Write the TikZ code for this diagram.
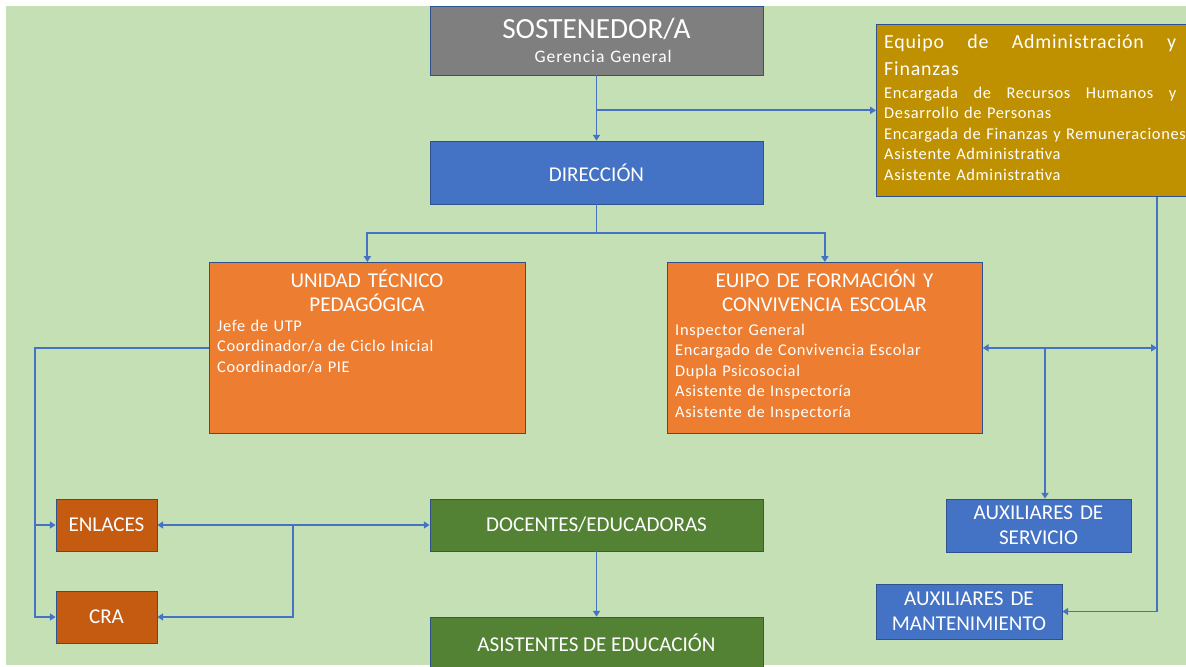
\documentclass[tikz,border=0pt]{standalone}
\usepackage{fontspec}
\setmainfont{Carlito}
\usepackage{xcolor}
\usetikzlibrary{positioning,calc,arrows.meta}

\definecolor{bgGreen}{HTML}{C5E0B4}
\definecolor{sostGray}{HTML}{7F7F7F}
\definecolor{boxBlue}{HTML}{4472C4}
\definecolor{adminGold}{HTML}{BF9000}
\definecolor{boxOrange}{HTML}{ED7D31}
\definecolor{darkOrange}{HTML}{C55A11}
\definecolor{boxGreen}{HTML}{548235}
\definecolor{boxEdge}{HTML}{2F528F}
\definecolor{lineBlue}{HTML}{4472C4}

\newcommand{\bodyfont}{\fontsize{14}{17.5}\selectfont\addfontfeatures{LetterSpace=4}}

\begin{document}
\begin{tikzpicture}[x=0.03cm, y=-0.03cm,
    >={Triangle[length=5pt,width=6pt]},
    orgbox/.style={draw=boxEdge, line width=0.6pt, text=white, align=center,
        inner sep=0pt, font=\fontsize{18}{21}\selectfont},
    titletext/.style={text=white, inner sep=0pt, text width=9cm, align=center,
        anchor=base, font=\fontsize{18}{21}\selectfont},
    bodytext/.style={text=white, inner sep=0pt, text width=9cm, align=left,
        anchor=base west, font=\bodyfont},
    conn/.style={draw=lineBlue, line width=1.6pt}]

    % Page and background
    \useasboundingbox (0,0) rectangle (1186,666);
    \fill[bgGreen] (6,6) rectangle (1186,665);

    % Top level
    \node[orgbox, fill=sostGray, minimum width=9.99cm, minimum height=2.07cm,
        text width=9.5cm, font=\fontsize{15}{21}\selectfont\addfontfeatures{LetterSpace=5}] (sost) at (596.5,40.5)
        {{\fontsize{25}{21}\selectfont\addfontfeatures{LetterSpace=0}SOSTENEDOR/A}\\\hspace*{0.4cm}Gerencia General};
    \node[orgbox, fill=boxBlue, minimum width=9.99cm, minimum height=1.89cm] (dir) at (596.5,172.5) {DIRECCIÓN};

    % Administration team
    \node[orgbox, fill=adminGold, minimum width=9.9cm, minimum height=5.16cm, anchor=north west] (admin) at (876,24) {};
    \node[bodytext, text width=8.76cm] (adminTxt) at (884,48)
        {{\fontsize{17}{23}\selectfont\makebox[8.76cm]{Equipo\hfill de\hfill Administración\hfill y}}\\[6pt]
         {\fontsize{17}{23}\selectfont Finanzas}\\[2pt]
         \makebox[8.76cm]{Encargada\hfill de\hfill Recursos\hfill Humanos\hfill y}\\
         Desarrollo de Personas\\
         \makebox[8.76cm][l]{Encargada de Finanzas y Remuneraciones}\\
         Asistente Administrativa\\
         Asistente Administrativa};

    % UTP
    \node[orgbox, fill=boxOrange, minimum width=9.48cm, minimum height=5.13cm, anchor=north west] (utp) at (209,262) {};
    \node[titletext] (utpTtl) at (367,287) {UNIDAD TÉCNICO\\PEDAGÓGICA};
    \node[bodytext] (utpTxt) at (217,331) {Jefe de UTP\\Coordinador/a de Ciclo Inicial\\Coordinador/a PIE};

    % Formacion y convivencia
    \node[orgbox, fill=boxOrange, minimum width=9.45cm, minimum height=5.13cm, anchor=north west] (efce) at (667,262) {};
    \node[titletext] (efceTtl) at (824.5,287) {EUIPO DE FORMACIÓN Y\\CONVIVENCIA ESCOLAR};
    \node[bodytext] (efceTxt) at (675,335) {Inspector General\\Encargado de Convivencia Escolar\\Dupla Psicosocial\\Asistente de Inspectoría\\Asistente de Inspectoría};

    % Lower level
    \node[orgbox, fill=darkOrange, minimum width=3.03cm, minimum height=1.56cm] (enl) at (106.5,525) {ENLACES};
    \node[orgbox, fill=darkOrange, minimum width=3.03cm, minimum height=1.56cm] (cra) at (106.5,617) {CRA};
    \node[orgbox, fill=boxGreen, minimum width=9.99cm, minimum height=1.56cm] (doc) at (596.5,525) {DOCENTES/EDUCADORAS};
    \node[orgbox, fill=boxGreen, minimum width=9.99cm, minimum height=1.56cm] (asis) at (596.5,643) {ASISTENTES DE EDUCACIÓN};
    \node[orgbox, fill=boxBlue, minimum width=5.55cm, minimum height=1.59cm, text width=5.3cm] (auxs) at (1038.5,525.5) {AUXILIARES DE\\SERVICIO};
    \node[orgbox, fill=boxBlue, minimum width=5.58cm, minimum height=1.65cm, text width=5.3cm] (auxm) at (969,611.5) {AUXILIARES DE\\MANTENIMIENTO};

    % Connectors
    \draw[conn,->] (sost) -- (dir);
    \draw[conn,->] (sost.south |- admin.west) -- (admin.west);
    \draw[conn,->] (dir.south) -- ++(0,29) -| (utp.north);
    \draw[conn,->] (dir.south) -- ++(0,29) -| (efce.north);

    \draw[conn,->] (utp.west) -- ++(-174,0) coordinate (leftbus) |- (cra.west);
    \draw[conn,->] (leftbus |- enl.west) -- (enl.west);
    \draw[conn,<->] (enl) -- (doc);
    \coordinate (midbus) at (293,525);
    \draw[conn,->] (midbus) |- (cra.east);
    \draw[conn,->] (doc) -- (asis);

    \coordinate (rightbus) at ($(admin.south west)+(281,0)$);
    \draw[conn,->] (rightbus) |- (auxm.east);
    \draw[conn,<->] (efce.east) -- (rightbus |- efce.east);
    \coordinate (servbus) at (1045,347.5);
    \draw[conn,->] (servbus) -- (servbus |- auxs.north);
\end{tikzpicture}
\end{document}
